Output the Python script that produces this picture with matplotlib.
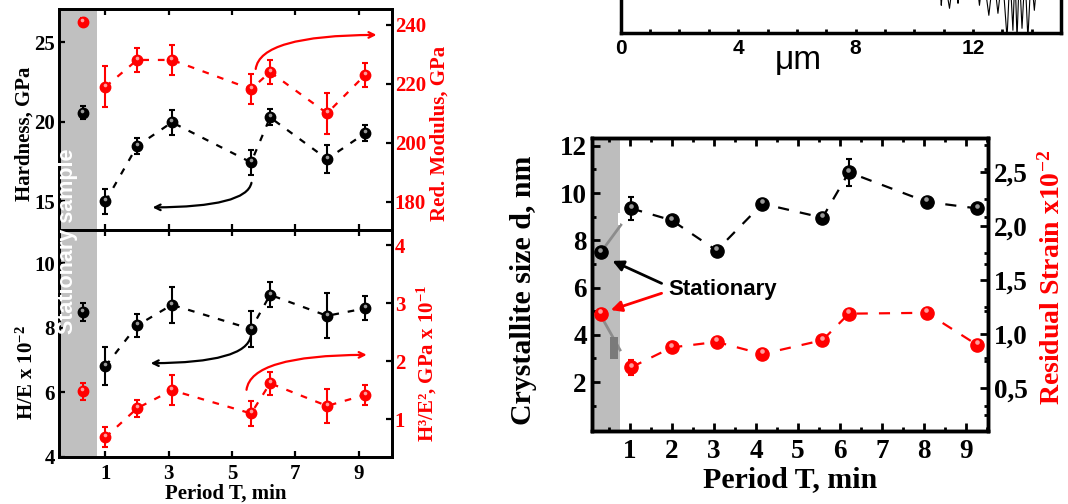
import matplotlib.pyplot as plt
from matplotlib.transforms import offset_copy
from matplotlib.patches import Rectangle

plt.rcParams['font.family'] = 'Liberation Serif'
plt.rcParams['font.weight'] = 'bold'
plt.rcParams['axes.labelweight'] = 'bold'
plt.rcParams['mathtext.fontset'] = 'custom'
plt.rcParams['mathtext.rm'] = 'Liberation Serif:bold'
plt.rcParams['mathtext.default'] = 'rm'
plt.rcParams['xtick.direction'] = 'in'
plt.rcParams['ytick.direction'] = 'in'

# nanoindentation (left panels)
period = [0.28, 1, 2, 3.1, 5.6, 6.2, 8, 9.2]
hardness = [20.57, 15.0, 18.48, 19.97, 17.45, 20.28, 17.66, 19.28]
hardness_err = [0.42, 0.8, 0.5, 0.8, 0.8, 0.5, 0.9, 0.5]
modulus = [241.1, 219.0, 228.1, 228.1, 218.2, 224.0, 210.0, 223.0]
modulus_err = [1.2, 7, 4, 5, 5, 4, 7, 4.2]
h_over_e = [8.5, 6.81, 8.07, 8.71, 7.96, 9.02, 8.37, 8.6]
h_over_e_err = [0.28, 0.58, 0.36, 0.55, 0.55, 0.39, 0.7, 0.37]
h3_e2 = [1.48, 0.69, 1.19, 1.50, 1.10, 1.62, 1.23, 1.42]
h3_e2_err = [0.15, 0.17, 0.15, 0.26, 0.21, 0.2, 0.29, 0.17]

# XRD (right panel)
period_xrd = [0.30, 1.03, 1.99, 3.06, 4.15, 5.58, 6.21, 8.06, 9.27]
cryst_size = [7.5, 9.35, 8.85, 7.57, 9.55, 8.96, 10.88, 9.63, 9.35]
cryst_err = [0, 0.47, 0, 0, 0, 0, 0.57, 0, 0]
strain = [1.19, 0.695, 0.878, 0.929, 0.817, 0.945, 1.19, 1.198, 0.90]
strain_err = [0, 0.07, 0, 0, 0, 0, 0, 0, 0]

# profile strip (top right, mostly cut off)
prof_x = [10.85, 10.92, 11.0, 11.2, 11.35, 11.49, 11.6, 12.1, 12.22, 12.35, 12.54, 12.7,
          12.85, 13.0, 13.16, 13.26, 13.36, 13.43, 13.5, 13.58, 13.67, 13.77, 13.87, 13.98,
          14.09, 14.2]
prof_y = [60, 28, 60, 25, 60, 30, 60, 60, 28, 60, 18, 60, 20, 60, -5, 60, 3, 60, -5, 60,
          5, 60, -5, 60, 23, 60]

RED = '#ff0000'
GRAY = '#c0c0c0'

fig = plt.figure(figsize=(10.68, 5.04), dpi=100)


def balls(ax, x, y, err, color, shine, ms, cap=2):
    ax.errorbar(x, y, yerr=err, fmt='o', color=color, ms=ms, mec=color,
                capsize=cap, elinewidth=1.5, capthick=1.5, zorder=3)
    hl = offset_copy(ax.transData, fig=fig, x=-ms * 0.05, y=ms * 0.2, units='points')
    ax.plot(x, y, 'o', color=shine, ms=ms * 0.35, mec='none', transform=hl, zorder=4)


def dashed(ax, x, y, color, dash):
    ax.plot(x[1:], y[1:], color=color, lw=1.6, ls=(0, dash), zorder=2)


def style(ax, lw, size, length):
    for s in ax.spines.values():
        s.set_linewidth(lw)
    ax.tick_params(which='both', labelsize=size, width=lw * 0.8, length=length,
                   top=True, right=True)


# --- left top: hardness / modulus
ax1 = fig.add_axes([0.0552, 0.5437, 0.3118, 0.4385])
ax1r = ax1.twinx()
ax1.axvspan(-0.47, 0.73, color=GRAY, lw=0, zorder=0)
balls(ax1, period, hardness, hardness_err, 'black', '#9a9a9a', 7.5)
dashed(ax1, period, hardness, 'black', (3, 4))
balls(ax1r, period, modulus, modulus_err, RED, '#ff9c9c', 7.5)
dashed(ax1r, period, modulus, RED, (3, 4))
ax1.set_xlim(-0.47, 10.05)
ax1.set_ylim(13.2, 27.1)
ax1r.set_ylim(170.4, 245.4)
ax1.set_xticks([1, 3, 5, 7, 9])
ax1.set_xticklabels([])
ax1.set_yticks([15, 20, 25])
ax1r.set_yticks([180, 200, 220, 240])
style(ax1, 2, 15, 4)
style(ax1r, 2, 15, 4)
ax1.tick_params(right=False, pad=3)
ax1r.tick_params(labelcolor=RED, pad=2)
ax1.set_ylabel('Hardness, GPa', fontsize=15)
ax1.yaxis.set_label_coords(-0.072, 0.434)
ax1r.set_ylabel('Red. Modulus, GPa', fontsize=15, color=RED)
ax1r.yaxis.set_label_coords(1.114, 0.439)
ax1.annotate('', xy=(2.4, 14.62), xytext=(5.62, 16.34),
             arrowprops=dict(arrowstyle='->', color='black', lw=1.6,
                             connectionstyle='angle3,angleA=90,angleB=0'))
ax1r.annotate('', xy=(9.65, 236.6), xytext=(5.74, 224.1),
              arrowprops=dict(arrowstyle='->', color=RED, lw=1.6,
                              connectionstyle='angle3,angleA=90,angleB=0'))

# --- left bottom: H/E and H3/E2
ax2 = fig.add_axes([0.0552, 0.0938, 0.3118, 0.4498])
ax2r = ax2.twinx()
ax2.axvspan(-0.47, 0.73, color=GRAY, lw=0, zorder=0)
balls(ax2, period, h_over_e, h_over_e_err, 'black', '#9a9a9a', 7.5)
dashed(ax2, period, h_over_e, 'black', (3, 4))
balls(ax2r, period, h3_e2, h3_e2_err, RED, '#ff9c9c', 7.5)
dashed(ax2r, period, h3_e2, RED, (3, 4))
ax2.set_xlim(-0.47, 10.05)
ax2.set_ylim(4, 11.03)
ax2r.set_ylim(0.355, 4.26)
ax2.set_xticks([1, 3, 5, 7, 9])
ax2.set_yticks([4, 6, 8, 10])
ax2r.set_yticks([1, 2, 3, 4])
style(ax2, 2, 15, 4)
style(ax2r, 2, 15, 4)
ax2.tick_params(right=False, pad=3)
ax2.tick_params(axis='x', pad=5)
ax2r.tick_params(labelcolor=RED, pad=2)
ax2.set_ylabel('H/E x 10$^{-2}$', fontsize=15)
ax2.yaxis.set_label_coords(-0.063, 0.373)
ax2r.set_ylabel('H³/E², GPa x 10$^{-1}$', fontsize=15, color=RED)
ax2r.yaxis.set_label_coords(1.069, 0.413)
ax2.set_xlabel('Period T, min', fontsize=15, labelpad=0)
ax2.annotate('', xy=(2.34, 6.9), xytext=(5.6, 7.83),
             arrowprops=dict(arrowstyle='->', color='black', lw=1.6,
                             connectionstyle='angle3,angleA=90,angleB=0'))
ax2r.annotate('', xy=(9.34, 2.11), xytext=(5.45, 1.46),
              arrowprops=dict(arrowstyle='->', color=RED, lw=1.6,
                              connectionstyle='angle3,angleA=90,angleB=0'))

fig.text(67 / 1068, 1 - 241 / 504, 'Stationary sample', rotation=90, color='white',
         family='Liberation Sans', fontweight='bold', fontsize=15.5,
         ha='center', va='center')

# --- right: crystallite size / residual strain
ax3 = fig.add_axes([0.5546, 0.1448, 0.3708, 0.5808])
ax3r = ax3.twinx()
ax3.axvspan(0.10, 0.76, color='#bdbdbd', lw=0, zorder=0)
ax3.plot([0.40, 0.78], [7.73, 8.65], color='#8c8c8c', lw=2, zorder=1)
ax3.plot([0.36, 0.76], [4.63, 3.36], color='#8c8c8c', lw=2, zorder=1)
ax3.add_patch(Rectangle((0.52, 2.97), 0.19, 0.93, color='#7a7a7a', lw=0, zorder=1))
ax3.add_patch(Rectangle((0.70, 8.65), 0.07, 0.5, color='white', lw=0, zorder=1))
balls(ax3, period_xrd, cryst_size, cryst_err, 'black', '#9a9a9a', 9.5, cap=2.5)
dashed(ax3, period_xrd, cryst_size, 'black', (5, 5))
balls(ax3r, period_xrd, strain, strain_err, RED, '#ff9c9c', 9.5, cap=2.5)
dashed(ax3r, period_xrd, strain, RED, (5, 5))
ax3.set_xlim(0.10, 9.53)
ax3.set_ylim(-0.07, 12.32)
ax3r.set_ylim(0.106, 2.81)
ax3.set_xticks(range(1, 10))
ax3.set_xticks([x + 0.5 for x in range(0, 10)], minor=True)
ax3.set_yticks([2, 4, 6, 8, 10, 12])
ax3.set_yticks([1, 3, 5, 7, 9, 11], minor=True)
ax3r.set_yticks([0.5, 1.0, 1.5, 2.0, 2.5])
ax3r.set_yticks([0.25, 0.75, 1.25, 1.75, 2.25, 2.75], minor=True)
ax3r.set_yticklabels(['0,5', '1,0', '1,5', '2,0', '2,5'])
style(ax3, 2.5, 19.5, 6)
style(ax3r, 2.5, 19.5, 6)
ax3.tick_params(which='minor', length=3)
ax3r.tick_params(which='minor', length=3)
ax3.tick_params(right=False, pad=4)
ax3.tick_params(axis='x', pad=6)
ax3r.tick_params(pad=4)
ax3.set_ylabel('Crystallite size d, nm', fontsize=21.5)
ax3.yaxis.set_label_coords(-0.14, 0.48)
ax3r.set_ylabel('Residual Strain x10$^{-2}$', fontsize=20, color=RED)
ax3r.yaxis.set_label_coords(1.127, 0.524)
ax3.set_xlabel('Period T, min', fontsize=21.5, labelpad=1)
ax3.annotate('', xy=(0.58, 7.13), xytext=(1.75, 6.18),
             arrowprops=dict(arrowstyle='-|>', color='black', lw=2, mutation_scale=16,
                             shrinkA=0, shrinkB=0))
ax3.annotate('', xy=(0.54, 5.05), xytext=(1.75, 5.76),
             arrowprops=dict(arrowstyle='-|>', color=RED, lw=2, mutation_scale=16,
                             shrinkA=0, shrinkB=0))
ax3.text(1.91, 5.9, 'Stationary', family='Liberation Sans', fontweight='bold',
         fontsize=16, ha='left', va='center')

# --- top right: profile panel, cut by the picture edge
ax4 = fig.add_axes([0.5812, 0.9339, 0.4123, 0.1984])
ax4.plot(prof_x, prof_y, color='black', lw=0.8)
ax4.set_xlim(0, 15)
ax4.set_ylim(0, 100)
ax4.set_xticks([0, 4, 8, 12])
ax4.set_xticks(range(0, 15), minor=True)
ax4.set_yticks([])
for s in ax4.spines.values():
    s.set_linewidth(2.5)
ax4.tick_params(which='both', labelsize=15, width=2, length=3, top=False, pad=4)
for lab in ax4.get_xticklabels():
    lab.set_family('Liberation Sans')
    lab.set_fontweight('bold')
fig.text(798 / 1068, 1 - 69 / 504, 'μm', family='Liberation Sans', fontweight='normal',
         fontsize=24, ha='center', va='baseline')

fig.savefig('out.png', dpi=100)
